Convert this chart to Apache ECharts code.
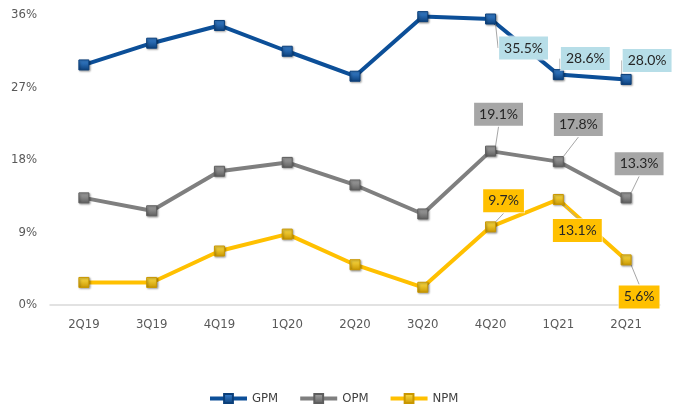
<!DOCTYPE html>
<html>
<head>
<meta charset="utf-8">
<script src="https://cdn.jsdelivr.net/npm/echarts@6/dist/echarts.min.js"></script>
<style>
  html, body { margin: 0; padding: 0; background: #fff; }
  #chart { width: 680px; height: 413px; }
</style>
</head>
<body>
<div id="chart"></div>
<script>
// Quarterly margins (%)
const categories = ['2Q19', '3Q19', '4Q19', '1Q20', '2Q20', '3Q20', '4Q20', '1Q21', '2Q21'];
const gpm = [29.8, 32.5, 34.7, 31.5, 28.4, 35.8, 35.5, 28.6, 28.0];
const opm = [13.3, 11.7, 16.6, 17.7, 14.9, 11.3, 19.1, 17.8, 13.3];
const npm = [2.8, 2.8, 6.7, 8.8, 5.0, 2.2, 9.7, 13.1, 5.6];
const yTicks = [0, 9, 18, 27, 36];

// Indices of the points that carry a callout, with callout offsets (px)
const gpmCallouts = { 6: [33, 29], 7: [27, -16], 8: [21, -19] };
const opmCallouts = { 6: [8, -37], 7: [20, -37], 8: [13, -34] };
const npmCallouts = { 6: [13, -26], 7: [19, 31], 8: [13, 37] };

const axisFont = "'Liberation Sans Narrow', 'DejaVu Sans Condensed', 'Liberation Sans', sans-serif";

const chart = echarts.init(document.getElementById('chart'));

function markerStyle(light, dark) {
  return {
    color: new echarts.graphic.LinearGradient(0, 0, 0, 1, [
      { offset: 0, color: light },
      { offset: 1, color: dark }
    ]),
    borderColor: dark,
    borderWidth: 1,
    shadowColor: 'rgba(0,0,0,0.35)',
    shadowBlur: 2,
    shadowOffsetX: 1,
    shadowOffsetY: 1
  };
}

function buildSeries(name, values, callouts, lineColor, light, dark, boxColor) {
  return {
    name: name,
    type: 'line',
    data: values.map((v, i) => {
      const item = { value: v };
      if (callouts[i]) {
        item.label = {
          show: true,
          position: 'inside',
          formatter: (p) => p.value.toFixed(1) + '%',
          fontFamily: 'Lato',
          fontSize: 14,
          color: '#262626',
          backgroundColor: boxColor,
          borderColor: 'rgba(255,255,255,0.6)',
          borderWidth: 1,
          padding: [5, 5, 4, 5]
        };
        item.labelLine = { show: true, lineStyle: { color: '#a6a6a6', width: 1 } };
      }
      return item;
    }),
    labelLayout: (params) => {
      const off = callouts[params.dataIndex];
      if (!off) return {};
      return { dx: off[0], dy: off[1] };
    },
    labelLine: { show: true, lineStyle: { color: '#a6a6a6', width: 1 } },
    symbol: 'rect',
    symbolSize: 10,
    lineStyle: { color: lineColor, width: 4 },
    itemStyle: markerStyle(light, dark),
    label: { show: false },
    emphasis: { disabled: true },
    z: name === 'GPM' ? 3 : 2
  };
}

chart.setOption({
  animation: false,
  backgroundColor: '#ffffff',
  grid: { left: 50, right: 20, top: 15, bottom: 108 },
  legend: {
    bottom: 3,
    left: 203,
    itemWidth: 37,
    itemHeight: 11,
    itemGap: 20,
    lineStyle: { width: 4 },
    textStyle: { fontFamily: axisFont, fontSize: 13, color: '#404040' },
    data: ['GPM', 'OPM', 'NPM']
  },
  xAxis: {
    type: 'category',
    data: categories,
    boundaryGap: true,
    axisLine: { lineStyle: { color: '#d9d9d9', width: 1.5 } },
    axisTick: { show: false },
    axisLabel: {
      margin: 13,
      fontFamily: axisFont,
      fontSize: 13,
      color: '#595959'
    }
  },
  yAxis: {
    type: 'value',
    min: yTicks[0],
    max: yTicks[yTicks.length - 1],
    interval: 9,
    axisLine: { show: false },
    axisTick: { show: false },
    splitLine: { show: false },
    axisLabel: {
      margin: 13,
      formatter: (v) => v + '%',
      fontFamily: axisFont,
      fontSize: 13,
      color: '#595959'
    }
  },
  series: [
    buildSeries('GPM', gpm, gpmCallouts, '#0c4f98', '#3c86d6', '#0b3f7a', '#b7dee8'),
    buildSeries('OPM', opm, opmCallouts, '#7f7f7f', '#a9a9a9', '#5e5e5e', '#a6a6a6'),
    buildSeries('NPM', npm, npmCallouts, '#ffc000', '#ffe04a', '#c99700', '#ffc000')
  ]
});
</script>
</body>
</html>
